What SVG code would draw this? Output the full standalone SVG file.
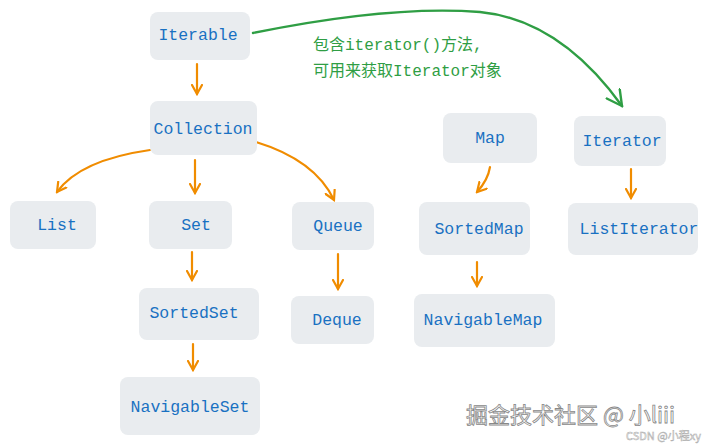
<svg xmlns="http://www.w3.org/2000/svg" width="720" height="446" viewBox="0 0 720 446">
<style>
.b{fill:#e9ecef;}
.t{font-family:"Liberation Mono",monospace;font-size:16.5px;fill:#1971c2;text-anchor:middle;dominant-baseline:central;}
.o{fill:none;stroke:#f08c00;stroke-width:2.2;stroke-linecap:round;marker-end:url(#ao);}
.g{fill:none;stroke:#2f9e44;stroke-width:2.4;stroke-linecap:round;marker-end:url(#ag);}
.gl{font-family:"Liberation Mono","Noto Sans CJK SC",monospace;font-size:16px;fill:#2f9e44;}
</style>
<defs>
<marker id="ao" viewBox="0 0 12 12" refX="10" refY="6" markerWidth="12" markerHeight="12" markerUnits="userSpaceOnUse" orient="auto"><path d="M1,1 L10,6 L1,11" fill="none" stroke="#f08c00" stroke-width="2.2" stroke-linecap="round"/></marker>
<marker id="ag" viewBox="0 0 18 18" refX="16" refY="9" markerWidth="18" markerHeight="18" markerUnits="userSpaceOnUse" orient="auto"><path d="M1,1 L16,9 L1,17" fill="none" stroke="#2f9e44" stroke-width="2.4" stroke-linecap="round"/></marker>
</defs>
<rect width="720" height="446" fill="#fff"/>
<g id="connectors">
<path class="o" d="M197,64 L197,94"/>
<path class="o" d="M150,150 Q80,160 57,192"/>
<path class="o" d="M195,160 L195,193"/>
<path class="o" d="M256,142 Q315,160 334,200"/>
<path class="o" d="M192,252 L192,280"/>
<path class="o" d="M193,344 L193,370"/>
<path class="o" d="M338,254 L338,289"/>
<path class="o" d="M490,167 Q488,180 477,192"/>
<path class="o" d="M477,262 L477,286"/>
<path class="o" d="M631,169 L631,198"/>
<path class="g" d="M253,33 Q390,5 480,12 Q560,20 622,106"/>
</g>
<text class="gl" x="313" y="50">包含iterator()方法,</text>
<text class="gl" x="313" y="76">可用来获取Iterator对象</text>
<g id="n-iterable"><rect class="b" x="150" y="12" width="100" height="48" rx="8"/><text class="t" x="198" y="35">Iterable</text></g>
<g id="n-collection"><rect class="b" x="150" y="101" width="107" height="54" rx="8"/><text class="t" x="203" y="129">Collection</text></g>
<g id="n-list"><rect class="b" x="10" y="201" width="86" height="48" rx="8"/><text class="t" x="57" y="225">List</text></g>
<g id="n-set"><rect class="b" x="149" y="201" width="83" height="48" rx="8"/><text class="t" x="196" y="225">Set</text></g>
<g id="n-queue"><rect class="b" x="292" y="202" width="82" height="48" rx="8"/><text class="t" x="338" y="226">Queue</text></g>
<g id="n-sortedset"><rect class="b" x="139" y="288" width="120" height="52" rx="8"/><text class="t" x="194" y="313">SortedSet</text></g>
<g id="n-deque"><rect class="b" x="291" y="296" width="83" height="48" rx="8"/><text class="t" x="337" y="320">Deque</text></g>
<g id="n-navigableset"><rect class="b" x="120" y="377" width="140" height="58" rx="8"/><text class="t" x="190" y="407">NavigableSet</text></g>
<g id="n-map"><rect class="b" x="443" y="113" width="94" height="50" rx="8"/><text class="t" x="490" y="138">Map</text></g>
<g id="n-sortedmap"><rect class="b" x="419" y="202" width="111" height="53" rx="8"/><text class="t" x="479" y="229">SortedMap</text></g>
<g id="n-navigablemap"><rect class="b" x="414" y="294" width="141" height="53" rx="8"/><text class="t" x="483" y="320">NavigableMap</text></g>
<g id="n-iterator"><rect class="b" x="574" y="116" width="92" height="50" rx="8"/><text class="t" x="622" y="141">Iterator</text></g>
<g id="n-listiterator"><rect class="b" x="568" y="203" width="130" height="52" rx="8"/><text class="t" x="639" y="229">ListIterator</text></g>
<text x="466" y="423" font-family="'Noto Sans CJK SC',sans-serif" font-size="22" fill="#fff" stroke="#888" stroke-width="0.8">掘金技术社区 @ 小liii</text>
<text x="626" y="440" font-family="'Noto Sans CJK SC',sans-serif" font-size="11" fill="#fff" stroke="#aaa" stroke-width="0.5">CSDN @小程xy</text>
</svg>
